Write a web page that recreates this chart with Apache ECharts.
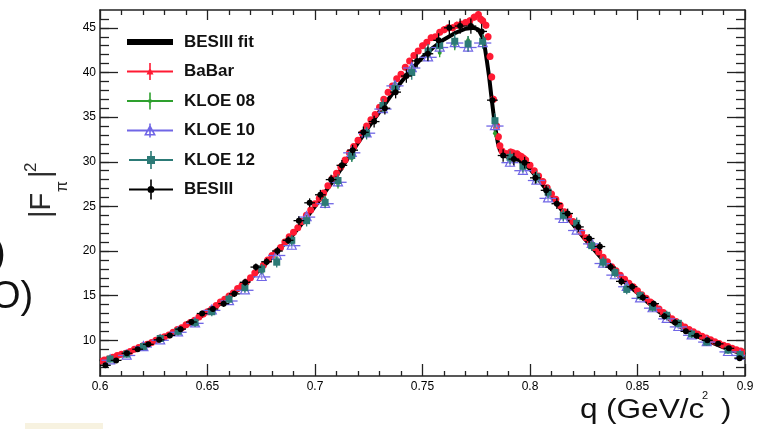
<!DOCTYPE html>
<html><head><meta charset="utf-8">
<script src="https://cdn.jsdelivr.net/npm/echarts@6/dist/echarts.min.js"></script>
<style>html,body{margin:0;padding:0;background:#fff}#c{width:760px;height:429px}</style>
</head><body><div id="c"></div>
<script>
// ---- axes ----
const yTicks = [10,15,20,25,30,35,40,45];
const yMinorTicks = [7,8,9,10,11,12,13,14,15,16,17,18,19,20,21,22,23,24,25,26,27,28,29,30,31,32,33,34,35,36,37,38,39,40,41,42,43,44,45,46];

// ---- BESIII fit ----
const fitQ = [0.600,0.605,0.610,0.615,0.620,0.625,0.630,0.635,0.640,0.645,0.650,0.655,0.660,0.665,0.670,0.675,0.680,0.685,0.690,0.695,0.700,0.705,0.710,0.715,0.720,0.725,0.730,0.735,0.740,0.745,0.750,0.755,0.760,0.765,0.770,0.774,0.776,0.778,0.779,0.780,0.781,0.782,0.783,0.784,0.785,0.786,0.788,0.790,0.795,0.800,0.805,0.810,0.815,0.820,0.825,0.830,0.835,0.840,0.845,0.850,0.855,0.860,0.865,0.870,0.875,0.880,0.885,0.890,0.895,0.900];
const fitF = [7.6,7.95,8.35,8.8,9.3,9.8,10.35,10.95,11.6,12.35,13.15,13.95,14.8,15.8,16.9,18.1,19.3,20.6,21.9,23.4,25.0,26.7,28.4,30.3,32.1,33.9,35.6,37.3,38.9,40.4,41.7,42.8,43.7,44.4,44.9,45.0,44.8,43.9,42.8,41.2,39.5,37.4,35.4,33.6,32.2,31.3,30.7,30.5,30.2,29.2,27.7,26.1,24.5,23.0,21.5,20.1,18.7,17.5,16.3,15.3,14.2,13.2,12.3,11.5,10.8,10.2,9.7,9.2,8.8,8.4];

// ---- BaBar ----
const babarQ = [0.602,0.606,0.610,0.614,0.618,0.622,0.626,0.630,0.634,0.638,
 0.642,0.646,0.650,0.654,0.658,0.662,0.666,0.670,0.674,0.678,
 0.682,0.686,0.690,0.694,0.698,0.702,0.706,0.710,0.714,0.718,
 0.722,0.726,0.730,0.734,0.738,0.742,0.746,0.750,0.754,0.758,
 0.762,0.766,0.770,0.772,0.774,0.776,0.778,0.7795,0.7814,0.783,
 0.7845,0.786,0.788,0.790,0.792,0.794,0.796,0.798,0.802,0.806,
 0.810,0.814,0.818,0.822,0.826,0.830,0.834,0.838,0.842,0.846,
 0.850,0.854,0.858,0.862,0.866,0.870,0.874,0.878,0.882,0.886,
 0.890,0.894,0.898,
 0.600,0.604,0.608,0.612,0.616,0.620,0.624,0.628,0.632,0.636,
 0.640,0.644,0.648,0.652,0.656,0.660,0.664,0.668,0.672,0.676,
 0.680,0.684,0.688,0.692,0.696,0.700,0.704,0.708,0.712,0.716,
 0.720,0.724,0.728,0.732,0.736,0.740,0.744,0.748,0.752,0.756,
 0.760,0.764,0.768,0.777,0.7805,0.7822,0.7853,
 0.787,0.789,0.791,0.793,0.795,0.797,
 0.800,0.804,0.808,0.812,0.816,0.820,0.824,0.828,0.832,0.836,
 0.840,0.844,0.848,0.852,0.856,0.860,0.864,0.868,0.872,0.876,
 0.880,0.884,0.888,0.892,0.896,0.900];
const babarF = [7.8,8.1,8.45,8.75,9.2,9.55,10.0,10.4,10.9,11.4,
 12.0,12.6,13.2,13.9,14.6,15.3,16.15,17.0,18.0,19.0,
 19.9,21.0,22.1,23.3,24.6,25.9,27.3,28.7,30.2,31.7,
 33.2,34.7,36.1,37.8,39.3,40.6,41.9,43.0,43.9,44.5,
 45.0,45.3,45.6,45.8,46.2,46.5,45.8,45.3,41.8,37.0,
 34.0,31.8,30.9,30.8,31.0,30.9,30.6,30.2,29.0,27.8,
 26.4,25.1,23.9,22.7,21.5,20.4,19.3,18.25,17.3,16.4,
 15.55,14.7,13.85,13.1,12.4,11.75,11.2,10.7,10.25,9.85,
 9.45,9.1,8.8,
 7.65,7.9,8.3,8.55,9.0,9.4,9.75,10.25,10.6,11.2,
 11.75,12.25,12.95,13.5,14.3,14.95,15.8,16.5,17.55,18.4,
 19.5,20.4,21.6,22.6,24.0,25.3,26.5,28.1,29.4,31.0,
 32.4,34.0,35.3,37.0,38.5,39.8,41.3,42.4,43.4,44.0,
 44.8,45.0,45.4,46.0,44.0,39.5,32.8,
 31.2,30.9,31.1,30.8,30.7,30.4,
 29.6,28.4,27.1,25.8,24.4,23.3,22.1,20.9,19.9,18.8,
 17.8,16.85,16.0,15.1,14.3,13.5,12.75,12.1,11.5,10.95,
 10.45,10.05,9.65,9.3,8.95,8.6];
const babarErr = [0.15,0.15,0.15,0.15,0.15,0.15,0.15,0.15,0.15,0.15,
 0.2,0.2,0.2,0.2,0.2,0.2,0.2,0.2,0.2,0.2,
 0.25,0.25,0.25,0.25,0.25,0.25,0.25,0.25,0.25,0.25,
 0.3,0.3,0.3,0.3,0.3,0.3,0.3,0.35,0.35,0.35,
 0.4,0.4,0.4,0.4,0.4,0.4,0.4,0.4,0.4,0.4,
 0.35,0.35,0.35,0.35,0.35,0.35,0.35,0.35,0.3,0.3,
 0.3,0.3,0.3,0.25,0.25,0.25,0.25,0.25,0.2,0.2,
 0.2,0.2,0.2,0.2,0.2,0.15,0.15,0.15,0.15,0.15,
 0.15,0.15,0.15,
 0.15,0.15,0.15,0.15,0.15,0.15,0.15,0.15,0.15,0.15,
 0.2,0.2,0.2,0.2,0.2,0.2,0.2,0.2,0.2,0.2,
 0.25,0.25,0.25,0.25,0.25,0.25,0.25,0.25,0.25,0.25,
 0.3,0.3,0.3,0.3,0.3,0.3,0.3,0.3,0.3,0.3,
 0.4,0.4,0.4,0.4,0.4,0.4,0.4,
 0.35,0.35,0.35,0.35,0.35,0.35,
 0.3,0.3,0.3,0.3,0.3,0.3,0.3,0.3,0.25,0.25,
 0.25,0.25,0.25,0.25,0.25,0.25,0.2,0.2,0.2,0.2,
 0.2,0.2,0.2,0.2,0.2,0.2];
const babarBin = 0.001;

// ---- KLOE (common binning) ----
const kloeQ = [0.6047,0.6124,0.6202,0.628,0.6363,0.6442,0.652,0.660,0.6674,0.6752,0.6822,0.6892,0.6961,0.7047,0.7107,0.7171,0.724,0.7316,0.7372,0.745,0.7526,0.758,0.765,0.7712,0.778,0.7837,0.7907,0.7967,0.803,0.8084,0.8155,0.8217,0.8287,0.834,0.8395,0.845,0.8512,0.857,0.8636,0.869,0.8752,0.8822,0.8921,0.8977];
const kloe08F = [7.85,8.4,9.2,10.1,10.95,11.95,13.1,14.7,15.85,17.6,
 19.2,21.0,23.6,25.8,27.4,30.4,33.4,36.0,38.0,40.2,
 41.9,42.2,43.0,43.6,43.8,33.2,30.1,29.3,28.0,26.3,
 24.2,22.8,20.5,18.6,17.5,16.1,14.9,13.8,12.6,11.6,
 10.7,9.9,8.8,8.45];
const kloe10F = [7.77,8.3,9.25,10.0,10.9,11.9,13.35,14.4,15.6,17.1,
 19.5,20.6,23.8,25.3,27.7,31.0,33.2,35.9,38.5,40.5,
 41.7,42.8,43.3,42.8,43.3,34.0,29.9,29.0,27.9,25.9,
 23.6,22.3,20.8,18.6,17.3,16.0,14.7,13.6,12.4,11.5,
 10.56,9.8,8.7,8.3];
const kloe12F = [7.9,8.45,9.3,10.2,11.0,12.0,13.2,14.6,15.9,18.0,
 18.75,21.2,23.4,25.45,27.9,30.7,33.2,36.3,38.2,40.0,
 42.4,43.0,43.5,43.2,43.5,34.6,30.5,29.5,28.3,26.6,
 24.0,23.1,20.6,18.75,17.6,15.7,15.0,13.7,12.8,11.9,
 10.7,9.8,8.9,8.4];
const kloeErr = [0.2,0.2,0.2,0.2,0.25,0.25,0.25,0.3,0.3,0.3,
 0.3,0.35,0.35,0.35,0.4,0.4,0.4,0.45,0.45,0.45,
 0.5,0.5,0.5,0.5,0.5,0.45,0.4,0.4,0.4,0.35,
 0.35,0.35,0.3,0.3,0.3,0.3,0.25,0.25,0.25,0.25,
 0.2,0.2,0.2,0.2];
const kloe12Err = [0.4,0.4,0.4,0.45,0.45,0.5,0.5,0.5,0.55,0.55,
 0.6,0.6,0.65,0.65,0.7,0.7,0.7,0.75,0.75,0.8,
 0.8,0.8,0.85,0.85,0.85,0.8,0.75,0.7,0.7,0.7,
 0.65,0.65,0.6,0.6,0.55,0.55,0.5,0.5,0.5,0.45,
 0.45,0.4,0.4,0.4];
const kloe08Bin = 0.0;
const kloe10Bin = 0.004;
const kloe12Bin = 0.0;

// ---- BESIII ----
const besQ = [0.6025,0.6075,0.6125,0.6175,0.6225,0.6275,0.6325,0.6375,0.6425,0.6475,0.6525,0.6575,0.6625,0.6675,0.6725,0.6775,0.6825,0.6875,0.6925,0.6975,0.7025,0.7075,0.7125,0.7175,0.7225,0.7275,0.7325,0.7375,0.7425,0.7475,0.7525,0.7575,0.7625,0.7675,0.7725,0.7775,0.7825,0.7875,0.7925,0.7975,0.8025,0.8075,0.8125,0.8175,0.8225,0.8275,0.8325,0.8375,0.8425,0.8475,0.8525,0.8575,0.8625,0.8675,0.8725,0.8775,0.8825,0.8875,0.8925,0.8975];
const besF = [7.2,7.75,8.55,9.0,9.55,10.05,10.55,11.25,12.05,13.0,
 13.5,14.1,15.2,16.5,18.2,18.8,20.0,21.2,23.4,25.4,
 26.3,28.0,29.6,31.3,33.3,34.5,36.0,37.8,39.6,41.3,
 42.1,43.6,45.0,45.2,45.2,44.6,36.9,30.7,30.3,29.9,
 28.2,26.8,25.3,24.2,22.7,21.4,20.5,18.2,16.6,16.0,
 14.8,14.1,12.7,12.0,11.0,10.5,10.0,9.6,9.1,8.0];
const besErr = [0.25,0.25,0.25,0.25,0.25,0.3,0.3,0.3,0.3,0.3,
 0.3,0.35,0.35,0.4,0.4,0.4,0.45,0.45,0.5,0.5,
 0.55,0.55,0.6,0.6,0.65,0.65,0.7,0.7,0.75,0.75,
 0.8,0.8,0.85,0.85,0.85,0.85,0.8,0.7,0.7,0.65,
 0.65,0.6,0.6,0.55,0.55,0.5,0.5,0.45,0.45,0.4,
 0.4,0.35,0.35,0.35,0.3,0.3,0.3,0.3,0.25,0.25];
const besBin = 0.0025;

// ---- colours ----
const C_BABAR = '#ff1a33', C_K08 = '#2ea02e', C_K10 = '#7066e6', C_K12 = '#2c7a76', C_BES = '#000000';

function pts(q, f, e, bin) { return q.map((v, i) => [v, f[i], e[i], bin]); }

function errRender(marker, color, size) {
  return function (params, api) {
    const q = api.value(0), f = api.value(1), ey = api.value(2), ex = api.value(3);
    const p = api.coord([q, f]);
    const t = api.coord([q, f + ey]), b = api.coord([q, f - ey]);
    const ls = { stroke: color, lineWidth: 1.3 };
    const ch = [{ type: 'line', shape: { x1: p[0], y1: t[1], x2: p[0], y2: b[1] }, style: ls }];
    if (ex > 0) {
      const l = api.coord([q - ex, f]), r = api.coord([q + ex, f]);
      ch.push({ type: 'line', shape: { x1: l[0], y1: p[1], x2: r[0], y2: p[1] }, style: ls });
    }
    const s = size;
    if (marker === 'circle') ch.push({ type: 'circle', shape: { cx: p[0], cy: p[1], r: s / 2 }, style: { fill: color } });
    else if (marker === 'square') ch.push({ type: 'rect', shape: { x: p[0] - s / 2, y: p[1] - s / 2, width: s, height: s }, style: { fill: color } });
    else if (marker === 'tri') ch.push({ type: 'polygon', shape: { points: [[p[0], p[1] - s * 0.6], [p[0] + s / 2, p[1] + s * 0.4], [p[0] - s / 2, p[1] + s * 0.4]] }, style: { fill: 'rgba(255,255,255,0.25)', stroke: color, lineWidth: 1.2 } });
    return { type: 'group', children: ch };
  };
}

// legend icons (46x20 boxes), all sub-paths clockwise
const BOX = 'M0,0 L0.01,0 L0,0.01 Z M46,20 L45.99,20 L46,19.99 Z ';
function hbar(x0, x1, y, h) { return `M${x0},${y - h / 2} L${x1},${y - h / 2} L${x1},${y + h / 2} L${x0},${y + h / 2} Z `; }
function vbar(x, y0, y1, w) { return `M${x - w / 2},${y0} L${x + w / 2},${y0} L${x + w / 2},${y1} L${x - w / 2},${y1} Z `; }
function circ(cx, cy, r) { return `M${cx - r},${cy} A${r},${r} 0 1 1 ${cx + r},${cy} A${r},${r} 0 1 1 ${cx - r},${cy} Z `; }
const iconFit = 'path://' + BOX + hbar(0, 46, 10, 6);
const iconBabar = 'path://' + BOX + hbar(0, 46, 10, 2) + vbar(23, 1.5, 18.5, 1.6) + 'M23,6 L26.5,13 L19.5,13 Z ';
const iconK08 = 'path://' + BOX + hbar(0, 46, 10, 2) + vbar(23, 1.5, 18.5, 1.6) + circ(23, 10, 2);
const iconK10 = 'path://' + BOX + hbar(0, 46, 10, 2) + vbar(23, 3, 17, 1.6) + 'M23,4 L29,15 L17,15 Z M23,7.5 L19.6,13.6 L26.4,13.6 Z ';
const iconK12 = 'path://' + BOX + hbar(2, 46, 10, 2) + vbar(24, 1, 19, 1.6) + 'M20,6 L28,6 L28,14 L20,14 Z ';
const iconBes = 'path://' + BOX + hbar(2, 46, 10, 2) + vbar(24, 0, 20, 1.6) + circ(24, 10, 3.5);

const chart = echarts.init(document.getElementById('c'), null, { renderer: 'canvas' });
const axisColor = '#222';
const FONT = '"Liberation Sans", Arial, sans-serif';
function yAx(pos, major, showLabel) {
  return {
    type: 'value', min: 6, max: 47, position: pos,
    axisLine: { show: major, onZero: false, lineStyle: { color: axisColor, width: 1.5 } },
    axisTick: { show: true, inside: true, length: major ? 18 : 9, customValues: major ? yTicks : yMinorTicks, lineStyle: { color: axisColor, width: 1.3 } },
    axisLabel: { show: showLabel, customValues: yTicks, margin: 4, fontSize: 12, color: '#000', fontFamily: FONT },
    splitLine: { show: false }
  };
}
function xAx(pos, showLabel) {
  return {
    type: 'value', min: 0.6, max: 0.9, interval: 0.05, position: pos,
    axisLine: { onZero: false, lineStyle: { color: axisColor, width: 1.5 } },
    axisTick: { inside: true, length: showLabel ? 12 : 10, lineStyle: { color: axisColor, width: 1.3 } },
    minorTick: { show: true, splitNumber: 5, length: 5, lineStyle: { color: axisColor, width: 1.3 } },
    axisLabel: { show: showLabel, margin: 5, fontSize: 12, color: '#000', fontFamily: FONT },
    splitLine: { show: false }, minorSplitLine: { show: false }
  };
}

const option = {
  animation: false,
  backgroundColor: '#ffffff',
  grid: { left: 100, right: 15, top: 10, bottom: 53 },
  xAxis: [xAx('bottom', true), xAx('top', false)],
  yAxis: [yAx('left', true, true), yAx('left', false, false), yAx('right', true, false), yAx('right', false, false)],
  legend: {
    orient: 'vertical', left: 122, top: 27, itemWidth: 46, itemHeight: 20, itemGap: 9.5,
    selectedMode: false,
    textStyle: { fontFamily: FONT, fontWeight: 'bold', fontSize: 17, color: '#111', padding: [0, 0, 0, 6] },
    data: [
      { name: 'BESIII fit', icon: iconFit, itemStyle: { color: '#000', borderWidth: 0 } },
      { name: 'BaBar', icon: iconBabar, itemStyle: { color: C_BABAR, borderWidth: 0 } },
      { name: 'KLOE 08', icon: iconK08, itemStyle: { color: C_K08, borderWidth: 0 } },
      { name: 'KLOE 10', icon: iconK10, itemStyle: { color: C_K10, borderWidth: 0 } },
      { name: 'KLOE 12', icon: iconK12, itemStyle: { color: C_K12, borderWidth: 0 } },
      { name: 'BESIII', icon: iconBes, itemStyle: { color: C_BES, borderWidth: 0 } }
    ]
  },
  series: [
    { name: 'BESIII fit', type: 'line', data: fitQ.map((q, i) => [q, fitF[i]]), showSymbol: false, symbol: 'none',
      lineStyle: { color: '#000', width: 4 }, itemStyle: { color: '#000' }, z: 2, clip: true },
    { name: 'BaBar', type: 'custom', renderItem: errRender('circle', C_BABAR, 7), data: pts(babarQ, babarF, babarErr, babarBin), encode: { x: 0, y: 1 }, itemStyle: { color: C_BABAR }, z: 3, clip: true },
    { name: 'KLOE 08', type: 'custom', renderItem: errRender('circle', C_K08, 4), data: pts(kloeQ, kloe08F, kloeErr, kloe08Bin), encode: { x: 0, y: 1 }, itemStyle: { color: C_K08 }, z: 3, clip: true },
    { name: 'KLOE 10', type: 'custom', renderItem: errRender('tri', C_K10, 9), data: pts(kloeQ, kloe10F, kloeErr, kloe10Bin), encode: { x: 0, y: 1 }, itemStyle: { color: C_K10 }, z: 3, clip: true },
    { name: 'KLOE 12', type: 'custom', renderItem: errRender('square', C_K12, 7), data: pts(kloeQ, kloe12F, kloe12Err, kloe12Bin), encode: { x: 0, y: 1 }, itemStyle: { color: C_K12 }, z: 3, clip: true },
    { name: 'BESIII', type: 'custom', renderItem: errRender('circle', C_BES, 6), data: pts(besQ, besF, besErr, besBin), encode: { x: 0, y: 1 }, itemStyle: { color: C_BES }, z: 3, clip: true }
  ],
  graphic: [
    { type: 'group', x: 41.5, y: 218, rotation: Math.PI / 2, children: [
      { type: 'text', x: 0, y: 0, style: { text: '|F', font: '29px ' + FONT, fill: '#2a2a2a', textAlign: 'left', align: 'left', textVerticalAlign: 'middle', verticalAlign: 'middle' } },
      { type: 'text', x: 26, y: 21, style: { text: 'π', font: '16px ' + FONT, fill: '#2a2a2a', textAlign: 'left', align: 'left', textVerticalAlign: 'middle', verticalAlign: 'middle' } },
      { type: 'text', x: 40, y: 0, style: { text: '|', font: '29px ' + FONT, fill: '#2a2a2a', textAlign: 'left', align: 'left', textVerticalAlign: 'middle', verticalAlign: 'middle' } },
      { type: 'text', x: 46, y: -10.5, style: { text: '2', font: '17px ' + FONT, fill: '#2a2a2a', textAlign: 'left', align: 'left', textVerticalAlign: 'middle', verticalAlign: 'middle' } }
    ] },
    { type: 'text', x: 580, y: 411, scaleX: 1.17, style: { text: 'q', font: '27px ' + FONT, fill: '#111', textAlign: 'left', align: 'left', textVerticalAlign: 'middle', verticalAlign: 'middle' } },
    { type: 'text', x: 606, y: 411, scaleX: 1.17, style: { text: '(GeV/c', font: '27px ' + FONT, fill: '#111', textAlign: 'left', align: 'left', textVerticalAlign: 'middle', verticalAlign: 'middle' } },
    { type: 'text', x: 702, y: 396, style: { text: '2', font: '11px ' + FONT, fill: '#111', textAlign: 'left', align: 'left', textVerticalAlign: 'middle', verticalAlign: 'middle' } },
    { type: 'text', x: 721, y: 411, scaleX: 1.17, style: { text: ')', font: '27px ' + FONT, fill: '#111', textAlign: 'left', align: 'left', textVerticalAlign: 'middle', verticalAlign: 'middle' } },
    { type: 'text', x: -7, y: 255, style: { text: ')', font: '38px ' + FONT, fill: '#111', textAlign: 'left', align: 'left', textVerticalAlign: 'middle', verticalAlign: 'middle' } },
    { type: 'text', x: -9, y: 298, style: { text: 'O)', font: '38px ' + FONT, fill: '#111', textAlign: 'left', align: 'left', textVerticalAlign: 'middle', verticalAlign: 'middle' } },
    { type: 'rect', shape: { x: 25, y: 423, width: 78, height: 6 }, style: { fill: '#f7f2e0' } }
  ]
};
chart.setOption(option);
</script>
</body></html>
